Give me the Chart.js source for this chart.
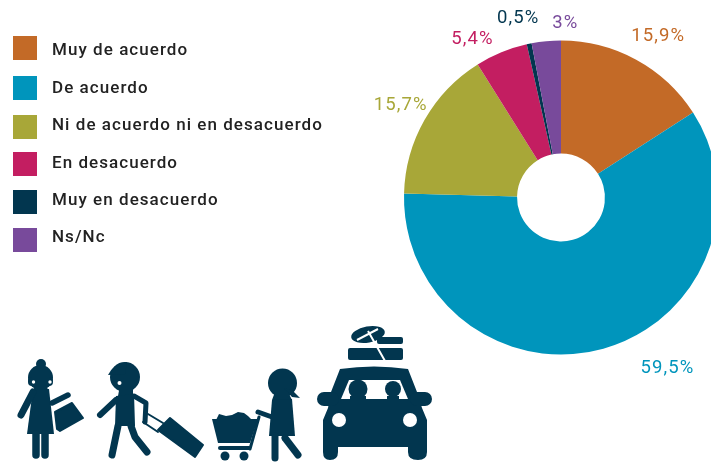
<!DOCTYPE html>
<html>
<head>
<meta charset="utf-8">
<title>Grado de acuerdo</title>
<script src="https://cdn.jsdelivr.net/npm/chart.js@4"></script>
<style>
  html, body { margin: 0; padding: 0; background: #fff; overflow: hidden; width: 711px; height: 462px; }
  #wrap { position: relative; width: 711px; height: 462px; overflow: hidden; }
  #chart { position: absolute; left: 0; top: 0; }
  #icons { position: absolute; left: 0; top: 0; }
</style>
</head>
<body>
<div id="wrap">
  <canvas id="chart" width="800" height="462"></canvas>
  <svg id="icons" width="711" height="462" viewBox="0 0 711 462" fill="#02364f" stroke="none">
    <!-- woman with bag -->
    <circle cx="41" cy="364" r="5"/>
    <circle cx="40.5" cy="377.5" r="12.5"/>
    <rect x="28" y="377" width="25" height="9" rx="4"/>
    <path d="M35 386L46 386L49 391L33 391Z"/>
    <circle cx="33.5" cy="382" r="1.7" fill="#fff"/>
    <circle cx="50" cy="382" r="1.7" fill="#fff"/>
    <path d="M33 389L49 389L54 434L27 434Z"/>
    <g stroke="#02364f" fill="none" stroke-linecap="round">
      <path d="M33 392L21 415" stroke-width="7"/>
      <path d="M52 403L68 395" stroke-width="5.5"/>
      <path d="M36 434L36 455M45 434L45 455" stroke-width="7.5"/>
    </g>
    <path d="M55 412L72 403L83 418L60 431L57 429Z" stroke="#02364f" stroke-width="2" stroke-linejoin="round"/>
    <!-- man with suitcase -->
    <circle cx="125" cy="377" r="15"/>
    <path d="M108 375Q114 363 127 362L125 374Z"/>
    <path d="M120 385L133 385L133 396L118 396Z"/>
    <circle cx="119.5" cy="383" r="2" fill="#fff"/>
    <path d="M116 396L134 394L135 426L115 426Z"/>
    <g stroke="#02364f" fill="none" stroke-linecap="round" stroke-linejoin="round">
      <path d="M116 400L100 415" stroke-width="6"/>
      <path d="M134 396L146 403L145 422" stroke-width="5"/>
      <path d="M118 426L112 455" stroke-width="7"/>
      <path d="M131 426L135 437L147 452" stroke-width="7"/>
      <path d="M148 414L163 423M143 422L158 432" stroke-width="2"/>
    </g>
    <path d="M170 418L203 445L195 457L158 430Z" stroke="#02364f" stroke-width="2" stroke-linejoin="round"/>
    <!-- shopping cart -->
    <path d="M212 419L258 419L250 443L218 443Z"/>
    <path d="M216 420L219 414L226 416L232 415L238 412L244 413L248 416L252 420Z"/>
    <g stroke="#02364f" fill="none" stroke-linecap="round">
      <path d="M220 448L249 448" stroke-width="4"/>
      <path d="M259 417L250 449" stroke-width="3"/>
      <path d="M258 412L272 417" stroke-width="5"/>
    </g>
    <circle cx="225" cy="456" r="4.5"/>
    <circle cx="244" cy="456" r="4.5"/>
    <!-- woman with cart -->
    <circle cx="282.5" cy="383" r="14.5"/>
    <path d="M284 388L292 397L300 398L293 391Z"/>
    <path d="M275 392L288 392L292 400L272 400Z"/>
    <path d="M272 400L292 399L295 436L269 436Z"/>
    <g stroke="#02364f" fill="none" stroke-linecap="round">
      <path d="M275 436L275 458" stroke-width="7"/>
      <path d="M285 438L298 455" stroke-width="7"/>
    </g>
    <!-- car -->
    <path d="M340 369Q374 364 408 369L417 392L422 408L427 420L427 452Q427 460 418 460Q408 460 408 452L408 447L338 447L338 452Q338 460 330 460Q323 460 323 452L323 420L328 408L331 392Z"/>
    <rect x="317" y="392" width="22" height="14" rx="7"/>
    <rect x="410" y="392" width="22" height="14" rx="7"/>
    <path d="M349 380L400 380L408 399L341 399Z" fill="#fff"/>
    <circle cx="358" cy="389" r="9.5"/>
    <circle cx="393" cy="389" r="8"/>
    <rect x="350" y="396" width="16" height="4"/>
    <rect x="387" y="396" width="12" height="4"/>
    <circle cx="339" cy="420" r="7" fill="#fff"/>
    <circle cx="410" cy="420" r="7" fill="#fff"/>
    <!-- present on the roof -->
    <rect x="348" y="348" width="55" height="12" rx="2"/>
    <rect x="377" y="337" width="26" height="7" rx="2"/>
    <ellipse cx="368" cy="334.5" rx="17" ry="8" transform="rotate(-10 368 334.5)"/>
    <path d="M368 331L385 361M357 340L378 329" stroke="#fff" stroke-width="2" fill="none"/>
  </svg>
</div>
<script>
const categories = ['Muy de acuerdo', 'De acuerdo', 'Ni de acuerdo ni en desacuerdo', 'En desacuerdo', 'Muy en desacuerdo', 'Ns/Nc'];
const values = [15.9, 59.5, 15.7, 5.4, 0.5, 3];
const valueLabels = ['15,9%', '59,5%', '15,7%', '5,4%', '0,5%', '3%'];
const colors = ['#c36a27', '#0095bc', '#a8a738', '#c31e61', '#02364f', '#784a9b'];

// legend rows, and how far each value label sits from the middle of its slice's outer edge
const swatchTop = [36, 76, 115, 152, 190, 228];
const legendTextY = [51, 89, 126, 164, 201, 238];
const labelNudgeX = [22, 64, -24, -29, -11, 19];
const labelNudgeY = [-23, 20, -14, -13, -25, -18];

const labelsPlugin = {
  id: 'labels',
  afterDraw(chart) {
    const ctx = chart.ctx;
    ctx.save();

    // legend
    ctx.textBaseline = 'middle';
    ctx.textAlign = 'left';
    ctx.font = '500 17px Roboto';
    ctx.letterSpacing = '1.05px';
    categories.forEach((c, i) => {
      ctx.fillStyle = colors[i];
      ctx.fillRect(13, swatchTop[i], 24, 24);
      ctx.fillStyle = '#222';
      ctx.fillText(c, 52, legendTextY[i]);
    });

    // value labels
    ctx.textAlign = 'center';
    ctx.font = '18.5px Roboto';
    ctx.letterSpacing = '1.1px';
    chart.getDatasetMeta(0).data.forEach((arc, i) => {
      const mid = (arc.startAngle + arc.endAngle) / 2;
      const x = arc.x + Math.cos(mid) * arc.outerRadius + labelNudgeX[i];
      const y = arc.y + Math.sin(mid) * arc.outerRadius + labelNudgeY[i];
      ctx.fillStyle = colors[i];
      ctx.fillText(valueLabels[i], x, y);
    });
    ctx.restore();
  }
};

new Chart(document.getElementById('chart'), {
  type: 'doughnut',
  data: {
    labels: categories,
    datasets: [{
      data: values,
      backgroundColor: colors,
      borderWidth: 0
    }]
  },
  options: {
    responsive: false,
    animation: false,
    cutout: '28%',
    layout: { padding: { left: 404, right: 82, top: 40, bottom: 107 } },
    plugins: { legend: { display: false }, tooltip: { enabled: false } }
  },
  plugins: [labelsPlugin]
});
</script>
</body>
</html>
